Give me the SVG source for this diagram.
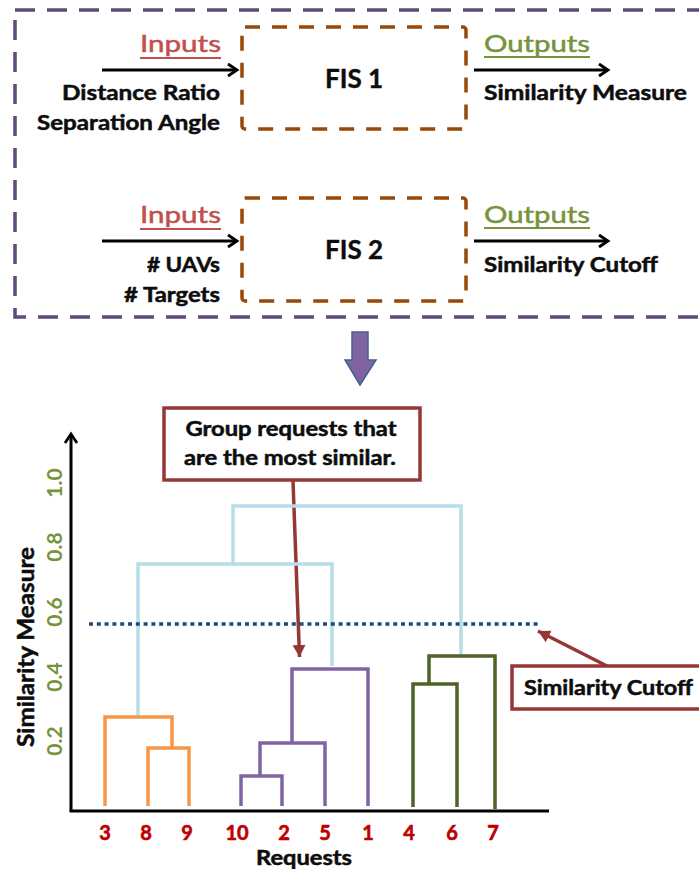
<svg xmlns="http://www.w3.org/2000/svg" width="699" height="869" viewBox="0 0 699 869">
<style>
text{font-family:Lato,"Open Sans","DejaVu Sans",sans-serif;paint-order:stroke;}
.b{font-weight:bold;fill:#0d0d0d;stroke:#0d0d0d;stroke-width:0.5;}
.lbl{font-size:21px;}
.in{font-size:24px;fill:#c0504d;stroke:#c0504d;stroke-width:0.5;}
.out{font-size:24px;fill:#77933c;stroke:#77933c;stroke-width:0.5;}
.fis{font-size:26px;font-weight:bold;fill:#0d0d0d;stroke:#0d0d0d;stroke-width:0.4;}
.tick{font-size:21px;font-weight:bold;fill:#77933c;}
.leaf{font-size:20px;font-weight:bold;fill:#c00000;stroke:#c00000;stroke-width:0.6;}
.dend{fill:none;stroke-width:3.5;stroke-linejoin:miter;}
.blue{stroke:#b7dee8;}
.orange{stroke:#f79646;}
.purple{stroke:#8064a2;}
.green{stroke:#4f6228;}
.callout{fill:#fff;stroke:#953735;stroke-width:3.5;}
.carrow{stroke:#953735;stroke-width:3.5;fill:none;}
.fisbox{fill:none;stroke:#984807;stroke-width:3.5;stroke-dasharray:15 12;}
</style>
<defs>
<marker id="chev" markerUnits="userSpaceOnUse" markerWidth="16" markerHeight="16" refX="12" refY="8" orient="auto">
<path d="M3,2 L12,8 L3,14" fill="none" stroke="#000" stroke-width="2.8"/>
</marker>
<marker id="red" markerUnits="userSpaceOnUse" markerWidth="16" markerHeight="16" refX="12" refY="7" orient="auto">
<path d="M0,0.5 L12,7 L0,13.5 Z" fill="#953735"/>
</marker>
</defs>

<g id="outer-box">
<rect x="15" y="10" width="700" height="307" fill="none" stroke="#604a7b" stroke-width="3.5" stroke-dasharray="20 12"/>
</g>

<g id="fis1">
<rect class="fisbox" x="242" y="27" width="224" height="102" rx="3"/>
<text class="fis" x="354" y="88" text-anchor="middle">FIS 1</text>
</g>
<g id="fis1-inputs">
<text class="in" x="221" y="52" text-anchor="end" textLength="81" lengthAdjust="spacingAndGlyphs">Inputs</text>
<line x1="140" y1="58" x2="221" y2="58" stroke="#c0504d" stroke-width="2"/>
<text class="b lbl" x="220" y="100" text-anchor="end" textLength="158" lengthAdjust="spacingAndGlyphs">Distance Ratio</text>
<text class="b lbl" x="220" y="130" text-anchor="end" textLength="183" lengthAdjust="spacingAndGlyphs">Separation Angle</text>
</g>
<g id="fis1-outputs">
<text class="out" x="484" y="52" textLength="106" lengthAdjust="spacingAndGlyphs">Outputs</text>
<line x1="484" y1="57" x2="590" y2="57" stroke="#77933c" stroke-width="2"/>
<text class="b lbl" x="484" y="100" textLength="203" lengthAdjust="spacingAndGlyphs">Similarity Measure</text>
</g>

<g id="fis2">
<rect class="fisbox" x="242" y="198" width="224" height="103" rx="3"/>
<text class="fis" x="354" y="259" text-anchor="middle">FIS 2</text>
</g>
<g id="fis2-inputs">
<text class="in" x="221" y="223" text-anchor="end" textLength="81" lengthAdjust="spacingAndGlyphs">Inputs</text>
<line x1="140" y1="229" x2="221" y2="229" stroke="#c0504d" stroke-width="2"/>
<text class="b lbl" x="220" y="272" text-anchor="end" textLength="73" lengthAdjust="spacingAndGlyphs"># UAVs</text>
<text class="b lbl" x="220" y="302" text-anchor="end" textLength="96" lengthAdjust="spacingAndGlyphs"># Targets</text>
</g>
<g id="fis2-outputs">
<text class="out" x="484" y="223" textLength="106" lengthAdjust="spacingAndGlyphs">Outputs</text>
<line x1="484" y1="228" x2="590" y2="228" stroke="#77933c" stroke-width="2"/>
<text class="b lbl" x="484" y="272" textLength="174" lengthAdjust="spacingAndGlyphs">Similarity Cutoff</text>
</g>

<g id="connectors">
<line x1="102" y1="70" x2="237" y2="70" stroke="#000" stroke-width="2.8" marker-end="url(#chev)"/>
<line x1="474" y1="70" x2="608" y2="70" stroke="#000" stroke-width="2.8" marker-end="url(#chev)"/>
<line x1="102" y1="241" x2="237" y2="241" stroke="#000" stroke-width="2.8" marker-end="url(#chev)"/>
<line x1="474" y1="241" x2="608" y2="241" stroke="#000" stroke-width="2.8" marker-end="url(#chev)"/>
<path d="M352,332 H368 V360 H376 L360,385 L345,360 H352 Z" fill="#8064a2" stroke="#41628f" stroke-width="1.5" stroke-linejoin="miter"/>
<line x1="293" y1="481" x2="299.5" y2="657" class="carrow" marker-end="url(#red)"/>
<line x1="607" y1="666" x2="538" y2="631" class="carrow" marker-end="url(#red)"/>
</g>

<g id="axes">
<line x1="71" y1="811" x2="71" y2="434" stroke="#000" stroke-width="3" marker-end="url(#chev)"/>
<line x1="69.5" y1="811" x2="549" y2="811" stroke="#000" stroke-width="3"/>
<text class="tick" transform="translate(62,483) rotate(-90)" text-anchor="middle">1.0</text>
<text class="tick" transform="translate(62,547) rotate(-90)" text-anchor="middle">0.8</text>
<text class="tick" transform="translate(62,612) rotate(-90)" text-anchor="middle">0.6</text>
<text class="tick" transform="translate(62,677) rotate(-90)" text-anchor="middle">0.4</text>
<text class="tick" transform="translate(62,741) rotate(-90)" text-anchor="middle">0.2</text>
<text class="b" font-size="22" transform="translate(34,647) rotate(-90)" text-anchor="middle" textLength="200" lengthAdjust="spacingAndGlyphs">Similarity Measure</text>
<text class="b" font-size="20" x="304" y="865" text-anchor="middle" textLength="96" lengthAdjust="spacingAndGlyphs">Requests</text>
</g>

<g id="leaves">
<text class="leaf" x="105" y="840" text-anchor="middle">3</text>
<text class="leaf" x="146" y="840" text-anchor="middle">8</text>
<text class="leaf" x="187" y="840" text-anchor="middle">9</text>
<text class="leaf" x="237" y="840" text-anchor="middle">10</text>
<text class="leaf" x="284" y="840" text-anchor="middle">2</text>
<text class="leaf" x="325" y="840" text-anchor="middle">5</text>
<text class="leaf" x="368" y="840" text-anchor="middle">1</text>
<text class="leaf" x="409" y="840" text-anchor="middle">4</text>
<text class="leaf" x="452" y="840" text-anchor="middle">6</text>
<text class="leaf" x="493" y="840" text-anchor="middle">7</text>
</g>

<g id="dendrogram">
<path class="dend blue" d="M138,717 V564 H332 V666 M233,564 V506 H461 V656"/>
<path class="dend orange" d="M105,806 V717 H172 V748 M148,806 V748 H189 V806"/>
<path class="dend purple" d="M368,806 V669 H292 V743 M325,806 V743 H260 V776 M241,806 V776 H282 V806"/>
<path class="dend green" d="M495,809 V656 H429 V684 M413,807 V684 H457 V807"/>
</g>

<g id="cutoff-line">
<line x1="89" y1="624" x2="538" y2="624" stroke="#1f497d" stroke-width="3.5" stroke-dasharray="4 3.8"/>
</g>

<g id="callout-group">
<rect class="callout" x="164" y="408" width="256" height="72"/>
<text class="b" font-size="20" x="291" y="436" text-anchor="middle" textLength="211" lengthAdjust="spacingAndGlyphs">Group requests that</text>
<text class="b" font-size="20" x="290" y="465" text-anchor="middle" textLength="212" lengthAdjust="spacingAndGlyphs">are the most similar.</text>
</g>

<g id="callout-cutoff">
<rect class="callout" x="512" y="666" width="200" height="43"/>
<text class="b" font-size="20" x="524" y="695" textLength="169" lengthAdjust="spacingAndGlyphs">Similarity Cutoff</text>
</g>
</svg>
